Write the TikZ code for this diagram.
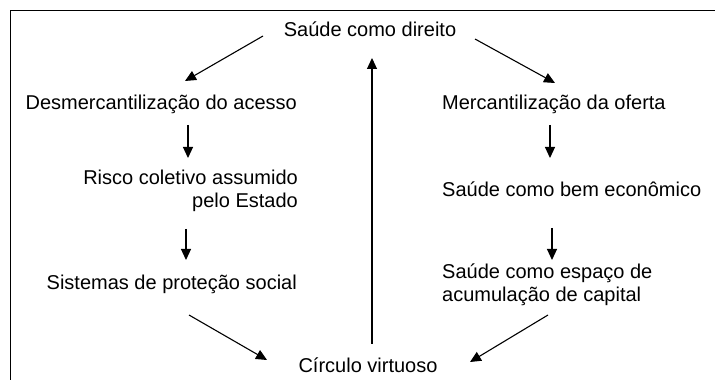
\documentclass[tikz,border=0pt]{standalone}
\usepackage{fontspec}
\setmainfont{Liberation Sans}
\usetikzlibrary{arrows.meta,calc}
\begin{document}
\begin{tikzpicture}[x=1pt,y=1pt,
  lbl/.style={inner sep=0pt, font=\fontsize{20}{23.5}\selectfont},
  arr/.style={line width=1.1pt, -{Triangle[length=11pt,width=10pt]}},
  frame/.style={line width=1pt}]
\useasboundingbox (0,0) rectangle (715,380);
\draw[frame] (10,0) -- (10,369) -- (715,369);
\node[lbl, anchor=base] (top) at (370,343) {Saúde como direito};
\node[lbl, anchor=base east] (desm) at (297,270) {Desmercantilização do acesso};
\node[lbl, anchor=base east, align=right] (risco) at (298,172) {Risco coletivo assumido\\pelo Estado};
\node[lbl, anchor=base east] (sist) at (297,90) {Sistemas de proteção social};
\node[lbl, anchor=base west] (merc) at (442,270) {Mercantilização da oferta};
\node[lbl, anchor=base west] (bem) at (442,183) {Saúde como bem econômico};
\node[lbl, anchor=base west, align=left] (cap) at (442,78) {Saúde como espaço de\\acumulação de capital};
\node[lbl, anchor=base] (circ) at (368,7) {Círculo virtuoso};
\draw[arr] ($(top.base)+(-107,1)$) -- ($(desm.base east)+(-112,29)$);
\draw[arr] ($(desm.base east)+(-109,-15)$) -- ($(risco.base east)+(-110,50)$);
\draw[arr] ($(risco.base east)+(-112,-21)$) -- ($(sist.base east)+(-111,30)$);
\draw[arr] ($(sist.base east)+(-108,-25)$) -- ($(circ.base)+(-101,13)$);
\draw[arr] ($(circ.base)+(4,29)$) -- ($(top.base)+(2,-21)$);
\draw[arr] ($(top.base)+(105,-2)$) -- ($(merc.base west)+(113,27)$);
\draw[arr] ($(merc.base west)+(108,-15)$) -- ($(bem.base west)+(108,39)$);
\draw[arr] ($(bem.base west)+(110,-31)$) -- ($(cap.base west)+(110,42)$);
\draw[arr] ($(cap.base west)+(106,-13)$) -- ($(circ.base)+(102,11)$);
\end{tikzpicture}
\end{document}
